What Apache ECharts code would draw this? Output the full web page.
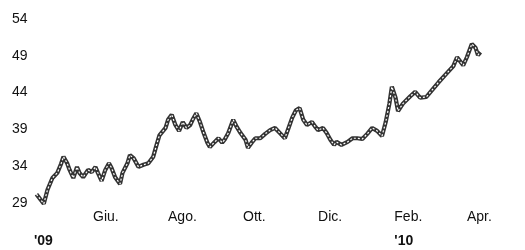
<!DOCTYPE html>
<html>
<head>
<meta charset="utf-8">
<script src="https://cdn.jsdelivr.net/npm/echarts@6/dist/echarts.min.js"></script>
<style>
  html, body { margin: 0; padding: 0; background: #fff; }
  #chart { width: 525px; height: 250px; }
</style>
</head>
<body>
<div id="chart"></div>
<script>
// values, roughly every few days
const dates = [
  '2009-04-16', '2009-04-22', '2009-04-25', '2009-04-29', '2009-05-03', '2009-05-06', '2009-05-08',
  '2009-05-11', '2009-05-13', '2009-05-16', '2009-05-19', '2009-05-21', '2009-05-24', '2009-05-28',
  '2009-05-31', '2009-06-03', '2009-06-05', '2009-06-08', '2009-06-11', '2009-06-14', '2009-06-16',
  '2009-06-19', '2009-06-23', '2009-06-25', '2009-06-29', '2009-07-01', '2009-07-04', '2009-07-08',
  '2009-07-12', '2009-07-16', '2009-07-20', '2009-07-22', '2009-07-25', '2009-07-30', '2009-08-01',
  '2009-08-04', '2009-08-07', '2009-08-10', '2009-08-13', '2009-08-16', '2009-08-19', '2009-08-21',
  '2009-08-24', '2009-08-27', '2009-08-30', '2009-09-02', '2009-09-04', '2009-09-08', '2009-09-11',
  '2009-09-14', '2009-09-16', '2009-09-19', '2009-09-23', '2009-09-26', '2009-09-29', '2009-10-03',
  '2009-10-05', '2009-10-08', '2009-10-11', '2009-10-15', '2009-10-19', '2009-10-23', '2009-10-27',
  '2009-10-31', '2009-11-04', '2009-11-07', '2009-11-10', '2009-11-13', '2009-11-16', '2009-11-19',
  '2009-11-22', '2009-11-26', '2009-11-29', '2009-12-01', '2009-12-05', '2009-12-08', '2009-12-11',
  '2009-12-14', '2009-12-16', '2009-12-20', '2009-12-25', '2009-12-29', '2010-01-02', '2010-01-06',
  '2010-01-10', '2010-01-14', '2010-01-18', '2010-01-22', '2010-01-25', '2010-01-28', '2010-01-30',
  '2010-02-02', '2010-02-04', '2010-02-08', '2010-02-14', '2010-02-18', '2010-02-22', '2010-02-27',
  '2010-03-04', '2010-03-09', '2010-03-15', '2010-03-21', '2010-03-24', '2010-03-29', '2010-04-01',
  '2010-04-05', '2010-04-08', '2010-04-10', '2010-04-12'
]
const values = [
  30.2, 28.9, 30.8, 32.4, 33.1, 34.3, 35.3,
  34.4, 33.5, 32.4, 33.9, 33.1, 32.5, 33.5,
  33.2, 33.9, 33.1, 32.0, 33.5, 34.4, 33.8,
  32.5, 31.6, 33.1, 34.4, 35.5, 35.1, 33.9,
  34.2, 34.4, 35.3, 36.5, 38.2, 39.2, 40.3,
  41.0, 39.6, 38.8, 40.0, 39.2, 39.6, 40.3,
  41.2, 40.0, 38.5, 37.2, 36.6, 37.3, 37.8,
  37.2, 37.6, 38.5, 40.3, 39.3, 38.5, 37.6,
  36.5, 37.2, 37.8, 37.8, 38.4, 38.9, 39.2,
  38.5, 37.8, 39.2, 40.6, 41.6, 41.9, 40.3,
  39.6, 40.0, 39.3, 38.9, 39.2, 38.5, 37.6,
  36.9, 37.3, 36.9, 37.3, 37.8, 37.8, 37.7,
  38.4, 39.2, 38.8, 38.1, 40.0, 42.5, 44.8,
  43.3, 41.5, 42.5, 43.5, 44.1, 43.3, 43.4,
  44.4, 45.4, 46.5, 47.6, 48.8, 47.7, 48.8,
  50.6, 50.1, 49.1, 49.5
]

const tickDates = ['2009-04-14', '2009-06-01', '2009-08-01', '2009-10-01', '2009-12-01', '2010-02-01', '2010-04-01']
const monthLabels = ['', 'Giu.', 'Ago.', 'Ott.', 'Dic.', 'Feb.', 'Apr.']
const yearLabels = ["'09", '', '', '', '', "'10", '']
const yTicks = [29, 34, 39, 44, 49, 54]

const toTime = (s) => {
  const [y, m, d] = s.split('-').map(Number)
  return Date.UTC(y, m - 1, d)
}
const tickTimes = tickDates.map(toTime)
const points = dates.map((d, i) => [toTime(d), values[i]])

const chart = echarts.init(document.getElementById('chart'), null, { renderer: 'canvas' })

const font = 'Liberation Sans, Arial, sans-serif'

const option = {
  animation: false,
  backgroundColor: '#fff',
  textStyle: { fontFamily: font },
  grid: {
    left: 31.5, right: 28.6, top: 11.6, bottom: 39.6,
    containLabel: false,
    outerBoundsMode: 'none'
  },
  xAxis: {
    type: 'value',
    min: toTime('2009-04-12'),
    max: toTime('2010-04-25'),
    axisLine: { show: false },
    axisTick: { show: false },
    splitLine: { show: false },
    axisLabel: {
      customValues: tickTimes,
      showMinLabel: true,
      showMaxLabel: true,
      hideOverlap: false,
      align: 'left',
      margin: -5,
      color: '#111',
      fontFamily: font,
      fontSize: 14,
      lineHeight: 24,
      formatter: (val) => {
        const i = tickTimes.indexOf(val)
        if (i < 0) return ''
        return monthLabels[i] + (yearLabels[i] ? '\n{yr|' + yearLabels[i] + '}' : '')
      },
      rich: {
        yr: { fontSize: 14, fontWeight: 'bold', color: '#111', lineHeight: 24, fontFamily: font }
      }
    }
  },
  yAxis: {
    type: 'value',
    min: 28,
    max: 55,
    axisLine: { show: false },
    axisTick: { show: false },
    splitLine: { show: false },
    axisLabel: {
      customValues: yTicks,
      margin: 4,
      color: '#111',
      fontFamily: font,
      fontSize: 14
    }
  },
  series: [
    {
      type: 'line',
      data: points,
      showSymbol: false,
      lineStyle: { color: '#333', width: 4.2 }
    },
    {
      // speckled look of the printed line
      type: 'line',
      data: points,
      showSymbol: false,
      silent: true,
      lineStyle: { color: '#fff', width: 1.2, type: [2, 2] }
    }
  ]
}

chart.setOption(option)
</script>
</body>
</html>
